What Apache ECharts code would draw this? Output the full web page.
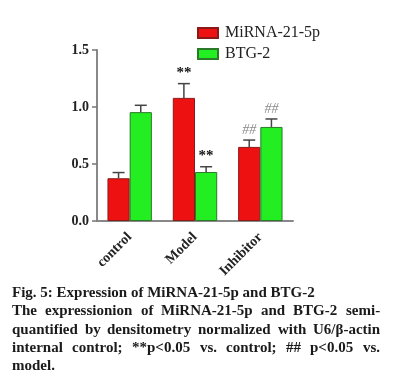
<!DOCTYPE html>
<html>
<head>
<meta charset="utf-8">
<script src="https://cdn.jsdelivr.net/npm/echarts@6/dist/echarts.min.js"></script>
<style>html,body{margin:0;padding:0;background:#fff;}#c{width:419px;height:386px;}</style>
</head>
<body>
<div id="c"></div>
<script>
var categories = ['control', 'Model', 'Inhibitor'];
var mirna = [0.375, 1.08, 0.65];
var btg = [0.955, 0.43, 0.825];
var mirnaErr = [0.05, 0.125, 0.06];
var btgErr = [0.06, 0.046, 0.07];
var mirnaSig = ['', '**', '##'];
var btgSig = ['', '**', '##'];
var yTicks = [0, 0.5, 1.0, 1.5];
var captionLines = [
  'Fig. 5: Expression of MiRNA-21-5p and BTG-2',
  'The expressionion of MiRNA-21-5p and BTG-2 semi-',
  'quantified by densitometry normalized with U6/\u03b2-actin',
  'internal control; **p<0.05 vs. control; ## p<0.05 vs.',
  'model.'
];
var justified = [false, true, true, true, false];

var chart = echarts.init(document.getElementById('c'));
var serif = '"Liberation Serif", "Times New Roman", serif';
var CAT_GAP = 0.32;

function errSeries(name, vals, errs, sigs, side) {
  return {
    type: 'custom',
    name: name,
    data: vals.map(function (v, i) { return [i, v, errs[i]]; }),
    z: 5,
    renderItem: function (params, api) {
      var band = api.size([1, 0])[0];
      var bw = band * (1 - CAT_GAP) / 2;
      var base = api.coord([api.value(0), api.value(1)]);
      var top = api.coord([api.value(0), api.value(1) + api.value(2)]);
      var x = base[0] + side * bw / 2;
      var cap = 6;
      var sig = sigs[params.dataIndex];
      var children = [
        { type: 'line', shape: { x1: x, y1: base[1], x2: x, y2: top[1] }, style: { stroke: '#444', lineWidth: 1.5 } },
        { type: 'line', shape: { x1: x - cap, y1: top[1], x2: x + cap, y2: top[1] }, style: { stroke: '#444', lineWidth: 1.5 } }
      ];
      if (sig) {
        var isHash = sig === '##';
        children.push({
          type: 'text',
          style: {
            text: sig, x: x, y: top[1] - 3,
            align: 'center', verticalAlign: 'bottom',
            fill: isHash ? '#8a8a8a' : '#111',
            font: (isHash ? 'italic 14px ' : 'bold 15px ') + serif
          }
        });
      }
      return { type: 'group', children: children };
    }
  };
}

var graphics = [];
var meas = document.createElement('canvas').getContext('2d');
var capFont = 'bold 15px ' + serif;
meas.font = capFont;
var capLeft = 12, capRight = 380;
var capY = [295, 313, 332, 350, 368];
captionLines.forEach(function (line, li) {
  if (!justified[li]) {
    graphics.push({ type: 'text', left: capLeft, top: capY[li] - 9, style: { text: line, font: capFont, fill: '#1a1a1a' } });
  } else {
    var words = line.split(' ');
    var widths = words.map(function (w) { return meas.measureText(w).width; });
    var total = widths.reduce(function (a, b) { return a + b; }, 0);
    var gap = (capRight - capLeft - total) / (words.length - 1);
    var x = capLeft;
    words.forEach(function (w, wi) {
      graphics.push({ type: 'text', left: Math.round(x), top: capY[li] - 9, style: { text: w, font: capFont, fill: '#1a1a1a' } });
      x += widths[wi] + gap;
    });
  }
});

chart.setOption({
  animation: false,
  backgroundColor: '#fff',
  grid: { left: 97, right: 126, top: 50, bottom: 165 },
  legend: {
    data: ['MiRNA-21-5p', 'BTG-2'],
    orient: 'vertical',
    left: 192, top: 20,
    icon: 'rect',
    itemWidth: 20, itemHeight: 10, itemGap: 5,
    textStyle: { fontFamily: serif, fontSize: 16, color: '#222', lineHeight: 16, padding: [0, 0, 0, 2] }
  },
  xAxis: {
    type: 'category',
    data: categories,
    axisLine: { lineStyle: { color: '#888', width: 2 } },
    axisTick: { alignWithLabel: true, length: 5, lineStyle: { color: '#777', width: 1.5 } },
    axisLabel: { rotate: 45, margin: 14, fontFamily: serif, fontWeight: 'bold', fontSize: 14, color: '#222' }
  },
  yAxis: {
    type: 'value',
    min: 0, max: 1.5, interval: 0.5,
    splitLine: { show: false },
    axisLine: { show: true, lineStyle: { color: '#888', width: 2 } },
    axisTick: { show: true, length: 5, lineStyle: { color: '#777', width: 1.5 } },
    axisLabel: {
      margin: 8, fontFamily: serif, fontWeight: 'bold', fontSize: 14, color: '#222',
      formatter: function (v) { return yTicks.indexOf(v) >= 0 ? v.toFixed(1) : ''; }
    }
  },
  series: [
    {
      name: 'MiRNA-21-5p', type: 'bar', data: mirna, barGap: '0%', barCategoryGap: (CAT_GAP * 100) + '%',
      itemStyle: { color: '#ee1111', borderColor: '#8a1a1a', borderWidth: 1 }
    },
    {
      name: 'BTG-2', type: 'bar', data: btg, barGap: '0%', barCategoryGap: (CAT_GAP * 100) + '%',
      itemStyle: { color: '#22ee22', borderColor: '#2a7a2a', borderWidth: 1 }
    },
    errSeries('errA', mirna, mirnaErr, mirnaSig, -1),
    errSeries('errB', btg, btgErr, btgSig, 1)
  ],
  graphic: graphics
});
</script>
</body>
</html>
